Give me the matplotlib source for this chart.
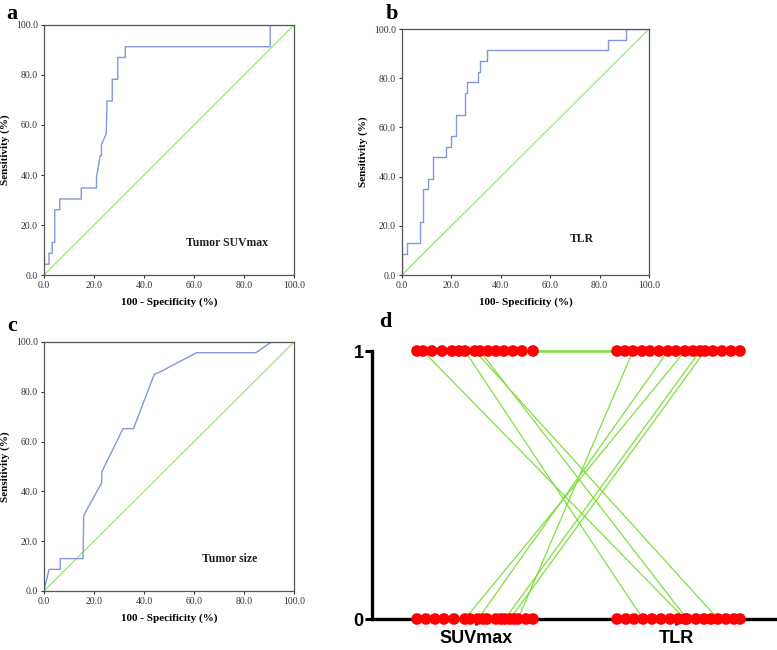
import matplotlib
matplotlib.use("Agg")
import matplotlib.pyplot as plt

# ROC curves (100 - specificity, sensitivity)
suv_fpr = [0, 0, 2.0, 2.0, 3.3, 3.3, 4.3, 4.3, 6.3, 6.3, 14.9, 14.9, 21.0, 21.0, 22.5, 23.0, 23.0, 24.9,
           25.2, 27.3, 27.3, 29.5, 29.5, 32.5, 32.5, 90.5, 90.5, 100]
suv_tpr = [0, 4.3, 4.3, 8.7, 8.7, 13.0, 13.0, 26.1, 26.1, 30.4, 30.4, 34.8, 34.8, 39.1, 47.8, 47.8, 52.2, 56.5,
           69.6, 69.6, 78.3, 78.3, 87.0, 87.0, 91.3, 91.3, 100, 100]

tlr_fpr = [0, 0, 2.2, 2.2, 7.4, 7.4, 8.4, 8.4, 10.4, 10.4, 12.6, 12.6, 17.8, 17.8, 19.9, 19.9, 21.8, 21.8,
           25.5, 25.5, 26.5, 26.5, 30.7, 30.7, 31.6, 31.6, 34.6, 34.6, 83.2, 83.2, 90.6, 90.6, 100]
tlr_tpr = [0, 8.7, 8.7, 13.0, 13.0, 21.7, 21.7, 34.8, 34.8, 39.1, 39.1, 47.8, 47.8, 52.2, 52.2, 56.5, 56.5, 65.2,
           65.2, 73.9, 73.9, 78.3, 78.3, 82.6, 82.6, 87.0, 87.0, 91.3, 91.3, 95.7, 95.7, 100, 100]

size_fpr = [0, 2.0, 6.5, 6.5, 15.6, 15.9, 23.1, 23.1, 31.6, 35.8, 44.1, 45.5, 61.0, 84.7, 91.0, 100]
size_tpr = [0, 8.7, 8.7, 13.0, 13.0, 30.4, 43.5, 47.8, 65.2, 65.2, 87.0, 87.5, 95.7, 95.7, 100, 100]

# panel d: paired positive (1) / negative (0) calls per patient, with jittered x positions
# discordant pairs first, then concordant positives, then concordant negatives
suv_pos = [0.735, 0.945, 0.995, 1.02, 1.21, 1.01, 0.945, 1.145, 1.17,
           0.705, 0.78, 0.83, 0.88, 0.915, 1.06, 1.10, 1.14, 1.185, 1.23, 1.285,
           0.705, 0.75, 0.795, 0.84, 0.89, 0.97, 1.035, 1.055, 1.10, 1.125, 1.19, 1.25, 1.285]
suv_call = [1, 1, 1, 1, 0, 0, 0, 0, 0,
            1, 1, 1, 1, 1, 1, 1, 1, 1, 1, 1,
            0, 0, 0, 0, 0, 0, 0, 0, 0, 0, 0, 0, 0]
tlr_pos = [2.045, 1.835, 2.21, 2.055, 1.785, 1.96, 2.045, 2.12, 2.145,
           1.705, 1.745, 1.83, 1.87, 1.915, 2.0, 2.085, 2.185, 2.23, 2.275, 2.32,
           1.705, 1.75, 1.79, 1.88, 1.925, 1.97, 2.01, 2.10, 2.14, 2.175, 2.25, 2.29, 2.32]
tlr_call = [0, 0, 0, 0, 1, 1, 1, 1, 1,
            1, 1, 1, 1, 1, 1, 1, 1, 1, 1, 1,
            0, 0, 0, 0, 0, 0, 0, 0, 0, 0, 0, 0, 0]
groups = ["SUVmax", "TLR"]

W, H = 777, 650
serif = "Liberation Serif"
sans = "Liberation Sans"
blue = "#8596dc"
green = "#8fe36a"
green_d = "#7fe03c"

fig = plt.figure(figsize=(W / 100, H / 100), dpi=100)


def px_axes(x0, y0, x1, y1):
    return fig.add_axes([x0 / W, 1 - y1 / H, (x1 - x0) / W, (y1 - y0) / H])


def roc_panel(ax, fpr, tpr, label, xlab):
    ax.plot([0, 100], [0, 100], color=green, lw=0.8)
    ax.plot(fpr, tpr, color=blue, lw=1.0)
    ax.set_xlim(0, 100)
    ax.set_ylim(0, 100)
    ticks = [0, 20, 40, 60, 80, 100]
    ax.set_xticks(ticks)
    ax.set_yticks(ticks)
    ax.set_xticklabels([f"{t:.1f}" for t in ticks], family=serif, fontsize=7, color="#2a2a2a")
    ax.set_yticklabels([f"{t:.1f}" for t in ticks], family=serif, fontsize=7, color="#2a2a2a")
    ax.tick_params(length=2.5, width=0.8, pad=2, colors="#333333")
    for s in ax.spines.values():
        s.set_color("#555555")
        s.set_linewidth(0.9)
    ax.set_xlabel(xlab, family=serif, fontsize=8, fontweight="bold", labelpad=5)
    ax.set_ylabel("Sensitivity (%)", family=serif, fontsize=8, fontweight="bold", labelpad=4)
    ax.text(label[1], label[2], label[0], family=serif, fontsize=8.5, fontweight="bold",
            ha="center", va="center", color="#222222")


ax_a = px_axes(44, 25, 294, 275)
roc_panel(ax_a, suv_fpr, suv_tpr, ("Tumor SUVmax", 73, 13), "100 - Specificity (%)")
ax_b = px_axes(402, 29, 649, 275)
roc_panel(ax_b, tlr_fpr, tlr_tpr, ("TLR", 72.7, 14.5), "100- Specificity (%)")
ax_c = px_axes(44, 342, 294, 591)
roc_panel(ax_c, size_fpr, size_tpr, ("Tumor size", 74.4, 12.8), "100 - Specificity (%)")

# panel d
ax_d = px_axes(372, 351, 777, 619)
for sp, sc, tp, tc in zip(suv_pos, suv_call, tlr_pos, tlr_call):
    ax_d.plot([sp, tp], [sc, tc], color=green_d, lw=0.9, zorder=2, clip_on=False)
ax_d.scatter(suv_pos, suv_call, s=70, color="#ff0000", edgecolor="none", zorder=4, clip_on=False)
ax_d.scatter(tlr_pos, tlr_call, s=70, color="#ff0000", edgecolor="none", zorder=4, clip_on=False)
ax_d.set_xlim(0.48, 2.505)
ax_d.set_ylim(0, 1)
ax_d.spines["top"].set_visible(False)
ax_d.spines["right"].set_visible(False)
for side in ["left", "bottom"]:
    ax_d.spines[side].set_linewidth(2.4)
    ax_d.spines[side].set_zorder(3)
ax_d.set_yticks([0, 1])
ax_d.set_yticklabels(["0", "1"], family=sans, fontsize=13, fontweight="bold")
ax_d.set_xticks([1, 2])
ax_d.set_xticklabels(groups, family=sans, fontsize=13, fontweight="bold")
ax_d.tick_params(axis="y", length=5, width=2.2, pad=1)
ax_d.tick_params(axis="x", length=4, width=1.8, pad=4)

for letter, x, y in [("a", 12, 14), ("b", 392, 14), ("c", 12, 326), ("d", 385, 322)]:
    fig.text(x / W, 1 - y / H, letter, family=serif, fontsize=16, fontweight="bold",
             ha="center", va="center")

fig.savefig("out.png", dpi=100)
